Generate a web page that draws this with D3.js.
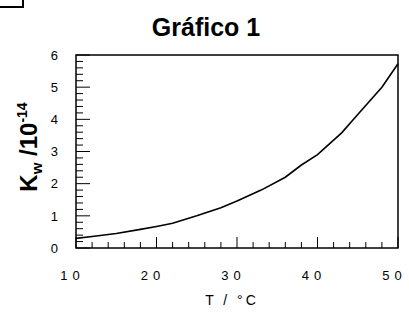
<!DOCTYPE html>
<html>
<head>
<meta charset="utf-8">
<title>Gráfico 1</title>
<style>
  body { margin: 0; background: #fff; }
  svg { display: block; font-family: "Liberation Sans", Arial, sans-serif; }
  .tick text { fill: #000; }
</style>
</head>
<body>
<svg width="409" height="314"></svg>
<script src="https://d3js.org/d3.v7.min.js"></script>
<script>
// temperatura (°C) y Kw / 10^-14
var temps = [10, 12, 15, 18, 20, 22, 25, 28, 30, 33, 36, 38, 40, 43, 45, 48, 50];
var kw    = [0.30, 0.36, 0.45, 0.58, 0.67, 0.77, 1.00, 1.25, 1.46, 1.80, 2.20, 2.58, 2.90, 3.58, 4.15, 5.00, 5.73];
var xTicks = [10, 20, 30, 40, 50];
var yTicks = [0, 1, 2, 3, 4, 5, 6];

var svg = d3.select("svg");
var pL = 76, pR = 398, pT = 55, pB = 248;

var x = d3.scaleLinear().domain([10, 50]).range([pL, pR]);
var y = d3.scaleLinear().domain([0, 6]).range([pB, pT]);

// trozo de recuadro arriba a la izquierda
svg.append("path")
  .attr("d", "M0,7H23V0")
  .attr("fill", "none")
  .attr("stroke", "#000")
  .attr("stroke-width", 2);

svg.append("text")
  .attr("x", 206).attr("y", 36)
  .attr("text-anchor", "middle")
  .style("font-weight", "bold")
  .style("font-size", "25px")
  .text("Gráfico 1");

// ticks menores y mayores (hacia dentro)
var g = svg.append("g");
g.selectAll(".ym").data(d3.range(0, 6.001, 0.2)).enter().append("line")
  .attr("x1", pL).attr("x2", function(d, i) { return pL + (i % 5 == 0 ? 14 : 7); })
  .attr("y1", function(d) { return y(d); }).attr("y2", function(d) { return y(d); })
  .attr("stroke", "#000").attr("stroke-width", 1);
g.selectAll(".xm").data(d3.range(10, 50.001, 2)).enter().append("line")
  .attr("y1", pB).attr("y2", function(d, i) { return pB - (i % 5 == 0 ? 11 : 6); })
  .attr("x1", function(d) { return x(d); }).attr("x2", function(d) { return x(d); })
  .attr("stroke", "#000").attr("stroke-width", 1);

// etiquetas con ejes d3
var yAxis = svg.append("g")
  .attr("transform", "translate(" + pL + ",0)")
  .call(d3.axisLeft(y).tickValues(yTicks).tickFormat(d3.format("d")).tickSize(0).tickPadding(18));
yAxis.select(".domain").remove();
yAxis.selectAll("text").style("font-size", "13px");

var xAxis = svg.append("g")
  .attr("transform", "translate(0," + pB + ")")
  .call(d3.axisBottom(x).tickValues(xTicks).tickSize(0).tickPadding(23));
xAxis.select(".domain").remove();
xAxis.selectAll("text")
  .style("font-size", "13px")
  .style("letter-spacing", "5px")
  .attr("dx", -4)
  .text(function(d) { return d; });

// marco
svg.append("rect")
  .attr("x", pL).attr("y", pT)
  .attr("width", pR - pL).attr("height", pB - pT)
  .attr("fill", "none").attr("stroke", "#000").attr("stroke-width", 1.5);

// curva
var line = d3.line()
  .x(function(d, i) { return x(temps[i]); })
  .y(function(d) { return y(d); });
svg.append("path")
  .datum(kw)
  .attr("d", line)
  .attr("fill", "none")
  .attr("stroke", "#000")
  .attr("stroke-width", 1.6);

// titulos de ejes
svg.append("text")
  .attr("x", 232).attr("y", 305)
  .attr("text-anchor", "middle")
  .style("font-size", "14px")
  .style("letter-spacing", "3px")
  .text("T /  °C");

var yl = svg.append("text")
  .attr("transform", "translate(37,147) rotate(-90)")
  .attr("text-anchor", "middle")
  .style("font-weight", "bold")
  .style("font-size", "24px");
yl.append("tspan").text("K");
yl.append("tspan").attr("dy", 5).style("font-size", "15px").text("w");
yl.append("tspan").attr("dy", -5).text(" /10");
yl.append("tspan").attr("dy", -10).style("font-size", "14px").text("-14");
</script>
</body>
</html>
